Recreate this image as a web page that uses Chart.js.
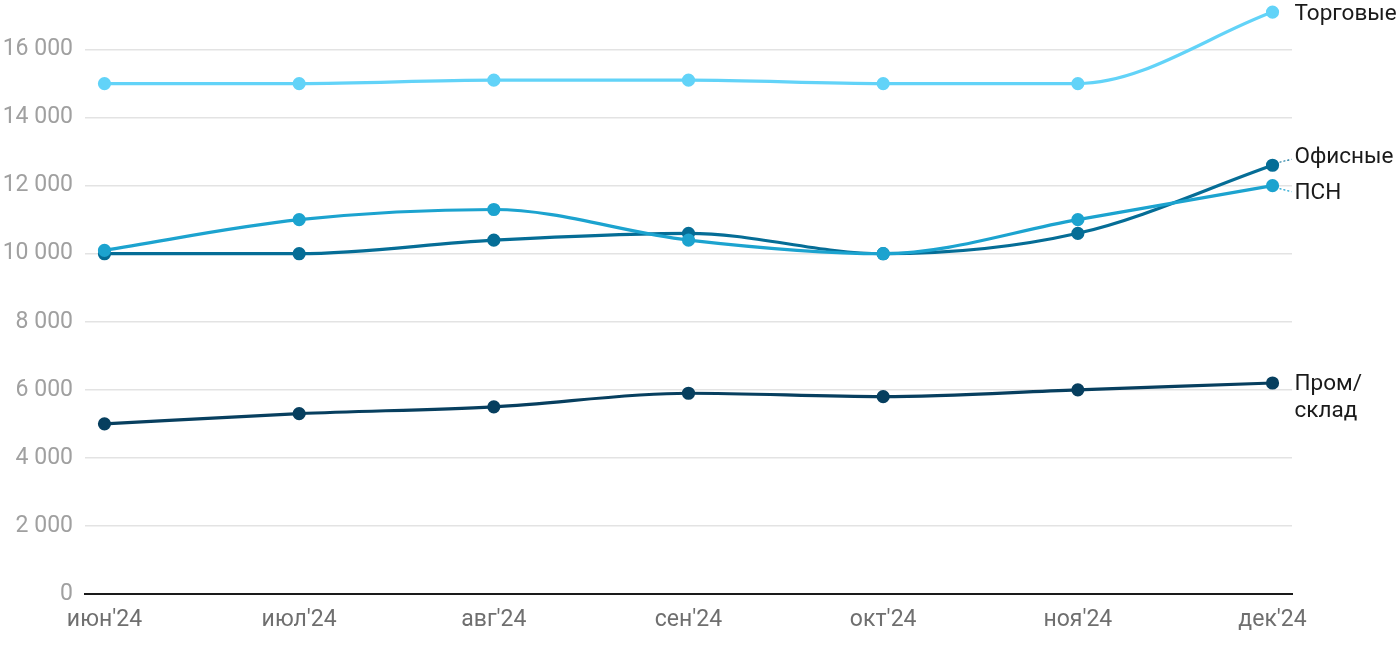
<!DOCTYPE html>
<html>
<head>
<meta charset="utf-8">
<script src="https://cdn.jsdelivr.net/npm/chart.js@4"></script>
<style>
  html, body { margin: 0; padding: 0; background: #fff; }
  #wrap { width: 1400px; height: 650px; }
</style>
</head>
<body>
<div id="wrap"><canvas id="line"></canvas></div>
<script>
const months = ["июн'24", "июл'24", "авг'24", "сен'24", "окт'24", "ноя'24", "дек'24"];
const seriesNames = ['Торговые', 'Офисные', 'ПСН', 'Пром/склад'];
const trade = [15000, 15000, 15100, 15100, 15000, 15000, 17100];
const office = [10000, 10000, 10400, 10600, 10000, 10600, 12600];
const psn = [10100, 11000, 11300, 10400, 10000, 11000, 12000];
const warehouse = [5000, 5300, 5500, 5900, 5800, 6000, 6200];
const yTicks = [0, 2000, 4000, 6000, 8000, 10000, 12000, 14000, 16000];

const colors = ['#62d3f8', '#056d96', '#1ca3cf', '#073f5f'];
// label placement next to last point
const labelPos = [
  { dy: 2, lines: ['Торговые'], lead: false },
  { dy: -8, lines: ['Офисные'], lead: true },
  { dy: 8, lines: ['ПСН'], lead: true },
  { dy: 1, lines: ['Пром/', 'склад'], lead: false }
];

const toPts = arr => arr.map((v, i) => ({ x: i, y: v }));

const endLabels = {
  id: 'endLabels',
  afterDatasetsDraw(chart) {
    const c = chart.ctx;
    c.save();
    c.font = '22.5px Roboto';
    c.fillStyle = '#1a1a1a';
    c.textBaseline = 'middle';
    c.textAlign = 'left';
    chart.data.datasets.forEach((ds, i) => {
      const meta = chart.getDatasetMeta(i);
      const pt = meta.data[meta.data.length - 1];
      const p = labelPos[i];
      const tx = pt.x + 22;
      const ty = pt.y + p.dy;
      if (p.lead) {
        c.strokeStyle = colors[i];
        c.lineWidth = 1.2;
        c.setLineDash([2, 2]);
        c.beginPath();
        c.moveTo(pt.x + 7, pt.y + Math.sign(p.dy) * 3);
        c.lineTo(tx - 3, ty - Math.sign(p.dy) * 2);
        c.stroke();
        c.setLineDash([]);
      }
      p.lines.forEach((t, k) => c.fillText(t, tx, ty + k * 27));
    });
    c.restore();
  }
};

new Chart(document.getElementById('line'), {
  type: 'line',
  data: {
    datasets: [trade, office, psn, warehouse].map((arr, i) => ({
      label: seriesNames[i],
      data: toPts(arr),
      borderColor: colors[i],
      backgroundColor: colors[i],
      borderWidth: 3.2,
      pointRadius: 5,
      pointHoverRadius: 5,
      cubicInterpolationMode: 'monotone',
      clip: false,
      order: 3 - i
    }))
  },
  options: {
    responsive: true,
    maintainAspectRatio: false,
    animation: false,
    layout: { padding: { left: 0, right: 108, top: 0, bottom: 0 } },
    plugins: { legend: { display: false }, tooltip: { enabled: false } },
    scales: {
      x: {
        type: 'linear',
        min: -0.1,
        max: 6.1,
        afterBuildTicks: s => { s.ticks = months.map((_, i) => ({ value: i })); },
        afterFit: s => { s.height = 56; },
        grid: { display: false, drawTicks: false },
        border: { display: true, color: '#1a1a1a', width: 2 },
        ticks: {
          color: '#6f6f6f',
          font: { family: 'Roboto', size: 23 },
          padding: 12,
          callback: v => months[v]
        }
      },
      y: {
        min: 0,
        max: 17215,
        afterBuildTicks: s => { s.ticks = yTicks.map(v => ({ value: v })); },
        afterFit: s => { s.width = 85; s.paddingTop = 0; s.paddingBottom = 0; },
        grid: { color: '#e3e3e3', lineWidth: 1.5, drawTicks: false },
        border: { display: false },
        ticks: {
          color: '#a0a0a0',
          font: { family: 'Roboto', size: 23 },
          padding: 12,
          callback: v => v.toLocaleString('ru-RU').replace(/\s/g, ' ')
        }
      }
    }
  },
  plugins: [endLabels]
});
</script>
</body>
</html>
